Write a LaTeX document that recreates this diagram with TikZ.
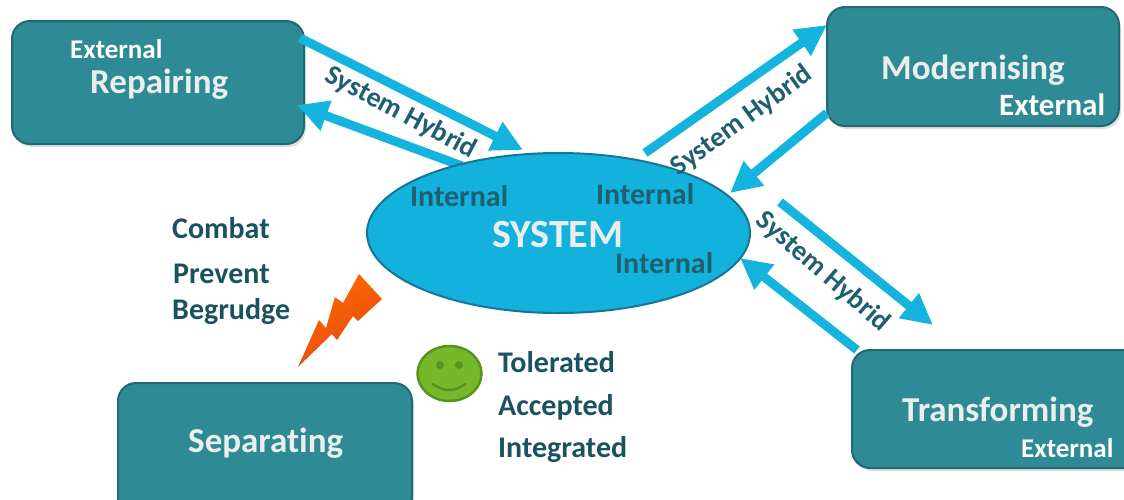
\documentclass[tikz,border=0pt]{standalone}
\usepackage{fontspec}
\setmainfont{Carlito}[Ligatures=CommonOff]
\usetikzlibrary{arrows.meta,shapes.geometric,shadows}
\definecolor{boxfill}{RGB}{46,139,150}
\definecolor{boxline}{RGB}{32,104,116}
\definecolor{sysfill}{RGB}{18,178,220}
\definecolor{sysline}{RGB}{24,118,148}
\definecolor{arrowc}{RGB}{20,180,222}
\definecolor{darktxt}{RGB}{27,82,96}
\definecolor{midtxt}{RGB}{30,96,112}
\definecolor{lighttxt}{RGB}{234,238,238}
\definecolor{smilefill}{RGB}{118,184,42}
\definecolor{smileline}{RGB}{86,148,30}
\definecolor{boltA}{RGB}{255,106,0}
\definecolor{boltB}{RGB}{226,74,12}
\begin{document}
\begin{tikzpicture}[x=1pt,y=-1pt,
  procbox/.style={draw=boxline,line width=2pt,fill=boxfill,rounded corners=18pt,
    drop shadow={opacity=0.25,shadow xshift=2pt,shadow yshift=-3pt}},
  flow/.style={draw=arrowc,line width=9pt,-{Triangle[length=31pt,width=30pt]}},
  boxtitle/.style={anchor=base west,inner sep=0pt,text=lighttxt,font=\bfseries\fontsize{35}{40}\selectfont},
  boxext/.style={anchor=base west,inner sep=0pt,text=white,font=\bfseries\fontsize{27}{32}\selectfont},
  inttxt/.style={anchor=base west,inner sep=0pt,text=midtxt,font=\bfseries\fontsize{30}{34}\selectfont},
  sidetxt/.style={anchor=base west,inner sep=0pt,text=darktxt,font=\bfseries\fontsize{30}{34}\selectfont},
  hybrid/.style={inner sep=0pt,text=midtxt,font=\bfseries\fontsize{28}{32}\selectfont}]
\useasboundingbox (0,0) rectangle (1124,499);
\clip (0,0) rectangle (1124,499);

% boxes
\node[procbox,minimum width=292pt,minimum height=123pt] (rep) at (158,82.5) {};
\node[procbox,minimum width=292pt,minimum height=119pt] (mod) at (973,66.5) {};
\node[procbox,minimum width=292pt,minimum height=118pt] (tra) at (998,409) {};
\node[procbox,minimum width=294pt,minimum height=132pt] (sep) at (265,449) {};

% arrow end points
\coordinate (r1) at (300,38);   \coordinate (s1) at (523,150);
\coordinate (s2) at (462,166);  \coordinate (r2) at (297,105);
\coordinate (s3) at (645,153);  \coordinate (m3) at (827,25);
\coordinate (m4) at (827,113);  \coordinate (s4) at (730,193);
\coordinate (s5) at (780,202);  \coordinate (t5) at (933,325);
\coordinate (t6) at (857,350);  \coordinate (s6) at (740,258);

\draw[flow] (r1) -- (s1);
\draw[flow] (s2) -- (r2);
\draw[flow] (s3) -- (m3);
\draw[flow] (m4) -- (s4);
\draw[flow] (s5) -- (t5);
\draw[flow] (t6) -- (s6);

% system ellipse
\node[ellipse,draw=sysline,line width=2pt,fill=sysfill,minimum width=383pt,minimum height=160pt] (sys) at (558.5,233) {};

% box texts
\node[boxext] (repext) at (70,58) {External};
\node[boxtitle] (reptitle) at (90,93) {Repairing};
\node[boxtitle] (modtitle) at (881,79) {Modernising};
\node[boxext,font=\bfseries\fontsize{31}{36}\selectfont] (modext) at (999,115) {External};
\node[boxtitle] (tratitle) at (902,421) {Transforming};
\node[boxext] (traext) at (1021,457) {External};
\node[boxtitle] (septitle) at (188,452) {Separating};

% system texts
\node[anchor=base west,inner sep=0pt,text=lighttxt,font=\bfseries\fontsize{40}{46}\selectfont] (systxt) at (492,247) {SYSTEM};
\node[inttxt] (int1) at (410,206) {Internal};
\node[inttxt] (int2) at (596,204) {Internal};
\node[inttxt] (int3) at (615,273) {Internal};

% hybrid labels
\node[hybrid,rotate=-28] (h1) at (401,113) {System Hybrid};
\node[hybrid,rotate=36] (h2) at (742,121) {System Hybrid};
\node[hybrid,rotate=-41] (h3) at (823,272) {System Hybrid};

% side texts
\node[sidetxt] (combat) at (172,238) {Combat};
\node[sidetxt] (prevent) at (173,283) {Prevent};
\node[sidetxt] (begrudge) at (172,319) {Begrudge};
\node[sidetxt] (tol) at (498,372) {Tolerated};
\node[sidetxt] (acc) at (498,415) {Accepted};
\node[sidetxt] (integ) at (498,457) {Integrated};

% lightning bolt
\shade[top color=boltA,bottom color=boltB,shading angle=30]
  (359,274) -- (382,299) -- (358,321) -- (353,316) -- (337,340) -- (332,334)
  -- (298,367) -- (319,320) -- (326,328) -- (335,297) -- (343,303) -- cycle;

% smiley
\node[ellipse,draw=smileline,line width=2.5pt,fill=smilefill,minimum width=64pt,minimum height=55pt] (smiley) at (449.5,373.5) {};
\fill[smileline] (440,365) circle (4pt);
\fill[smileline] (459,365) circle (4pt);
\draw[smileline,line width=2.5pt,line cap=round] (433,384) .. controls (443,392) and (455,392) .. (465,384);
\end{tikzpicture}
\end{document}
